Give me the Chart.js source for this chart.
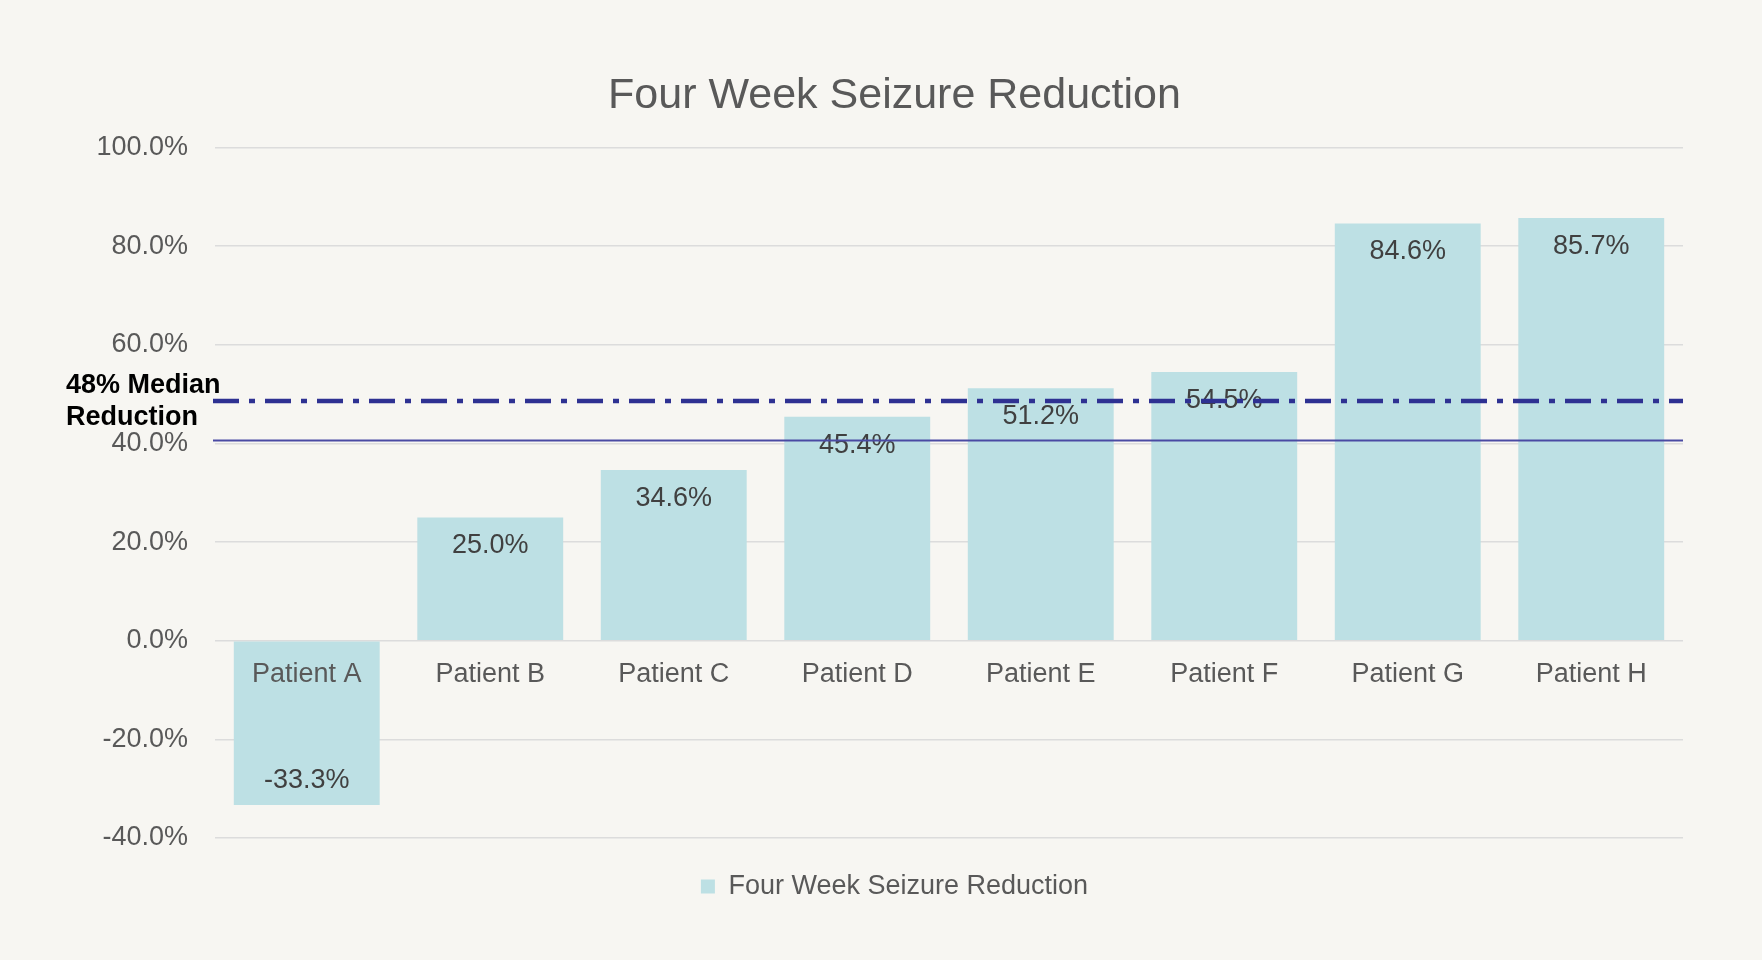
<!DOCTYPE html>
<html>
<head>
<meta charset="utf-8">
<script src="https://cdn.jsdelivr.net/npm/chart.js@4.4.1/dist/chart.umd.min.js"></script>
<style>
    html, body { margin: 0; padding: 0; background: #f7f6f2; }
    #wrap { width: 1762px; height: 960px; }
</style>
</head>
<body>
<div id="wrap"><canvas id="seizureChart"></canvas></div>
<script>
// Chart data
const categories = ['Patient A', 'Patient B', 'Patient C', 'Patient D', 'Patient E', 'Patient F', 'Patient G', 'Patient H'];
const reductionValues = [-33.3, 25.0, 34.6, 45.4, 51.2, 54.5, 84.6, 85.7];
const yMin = -40;
const yMax = 100;
const yStep = 20;
const medianValue = 48.6;
const medianLabel = ['48% Median', 'Reduction'];
const baselineValue = 40.6;

const greyText = '#595959';
const font = 'Liberation Sans, Arial, sans-serif';

// data labels + reference lines, drawn after the bars
const overlayPlugin = {
    id: 'overlay',
    afterLayout(chart) {
        // nudge title and legend a bit right, centred like the original
        [chart.titleBlock, chart.legend].forEach(b => {
            if (b) { b.left += 9; b.right += 9; }
        });
    },
    afterDatasetsDraw(chart) {
        const ctx = chart.ctx;
        const area = chart.chartArea;
        const y = chart.scales.y;
        const meta = chart.getDatasetMeta(0);

        ctx.save();
        ctx.font = '27px ' + font;
        ctx.fillStyle = '#404040';
        ctx.textAlign = 'center';
        ctx.textBaseline = 'middle';
        meta.data.forEach((bar, i) => {
            const v = reductionValues[i];
            const ty = v >= 0 ? bar.y + 28.5 : bar.y - 24;
            ctx.fillText(v.toFixed(1) + '%', bar.x, ty);
        });

        // solid line
        const by = y.getPixelForValue(baselineValue);
        ctx.strokeStyle = '#4a4aa3';
        ctx.lineWidth = 2;
        ctx.beginPath();
        ctx.moveTo(area.left - 2, by);
        ctx.lineTo(area.right, by);
        ctx.stroke();

        // median dash-dot line
        const my = y.getPixelForValue(medianValue);
        ctx.strokeStyle = '#2e3192';
        ctx.lineWidth = 4.5;
        ctx.setLineDash([26, 10, 6, 10]);
        ctx.beginPath();
        ctx.moveTo(area.left - 2, my);
        ctx.lineTo(area.right, my);
        ctx.stroke();
        ctx.setLineDash([]);

        ctx.font = 'bold 27px ' + font;
        ctx.fillStyle = '#000000';
        ctx.textAlign = 'left';
        ctx.fillText(medianLabel[0], 66, my - 16);
        ctx.fillText(medianLabel[1], 66, my + 16);
        ctx.restore();
    }
};

new Chart(document.getElementById('seizureChart'), {
    type: 'bar',
    data: {
        labels: categories,
        datasets: [{
            label: 'Four Week Seizure Reduction',
            data: reductionValues,
            backgroundColor: '#bde0e4',
            borderWidth: 0,
            barPercentage: 0.795,
            categoryPercentage: 1.0
        }]
    },
    options: {
        responsive: true,
        maintainAspectRatio: false,
        animation: false,
        layout: { padding: { left: 88, right: 79, top: 0, bottom: 50 } },
        plugins: {
            title: {
                display: true,
                text: 'Four Week Seizure Reduction',
                color: greyText,
                font: { family: font, size: 43, weight: 'normal' },
                padding: { top: 70, bottom: 26 }
            },
            legend: {
                position: 'bottom',
                labels: {
                    color: greyText,
                    font: { family: font, size: 27 },
                    boxWidth: 14,
                    boxHeight: 14,
                    padding: 35
                }
            },
            tooltip: { enabled: false }
        },
        scales: {
            x: {
                position: { y: 0 },
                grid: { display: false, drawTicks: false },
                border: { display: false },
                ticks: {
                    z: 1,
                    color: greyText,
                    font: { family: font, size: 27 },
                    padding: 18
                }
            },
            y: {
                min: yMin,
                max: yMax,
                afterFit(scale) { scale.width = 127; },
                grid: { color: '#dcdcdc', lineWidth: 1.5, drawTicks: false },
                border: { display: false },
                ticks: {
                    stepSize: yStep,
                    color: greyText,
                    font: { family: font, size: 27 },
                    padding: 27,
                    callback: v => v.toFixed(1) + '%'
                }
            }
        }
    },
    plugins: [overlayPlugin]
});
</script>
</body>
</html>
